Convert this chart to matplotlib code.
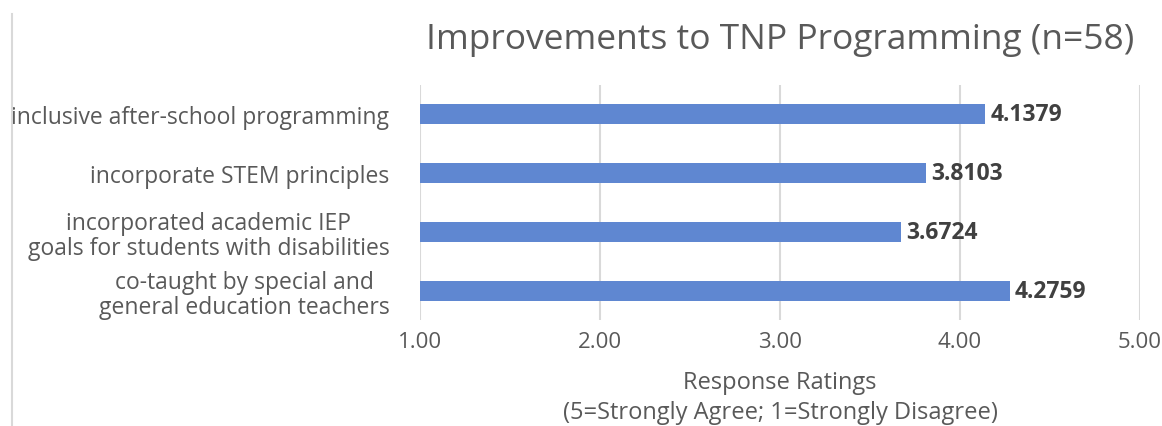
import matplotlib
matplotlib.use("Agg")
import matplotlib.pyplot as plt

categories = [
    "inclusive after-school programming",
    "incorporate STEM principles",
    "incorporated academic IEP\ngoals for students with disabilities",
    "co-taught by special and\ngeneral education teachers",
]
values = [4.1379, 3.8103, 3.6724, 4.2759]
xticks = [1.0, 2.0, 3.0, 4.0, 5.0]

FONT = ["Open Sans", "DejaVu Sans"]
plt.rcParams["font.family"] = FONT

fig = plt.figure(figsize=(11.62, 4.27), dpi=100)
ax = fig.add_axes([420/1162, 1-321/427, 720/1162, 235/427])

y = list(range(len(categories)))
base = 1.0
ax.barh(y, [v - base for v in values], left=base, height=0.34, color="#5F87D1", zorder=3)
for yi, v in zip(y, values):
    ax.text(v + 0.03, yi, f"{v:.4f}", va="center", ha="left", fontsize=16.5,
            fontweight="bold", color="#404040")

ax.set_xlim(1, 5)
ax.set_ylim(len(categories) - 0.5, -0.5)
ax.set_xticks(xticks)
ax.set_xticklabels([f"{t:.2f}" for t in xticks], fontsize=16, color="#595959")
ax.set_yticks(y)
ax.set_yticklabels(categories, fontsize=16.5, color="#595959", ha="right",
                   multialignment="center", linespacing=1.05)
ax.tick_params(axis="y", length=0, pad=22)
ax.tick_params(axis="x", length=0, pad=8)
ax.grid(axis="x", color="#D9D9D9", linewidth=1.5, zorder=0)
for s in ax.spines.values():
    s.set_visible(False)

ax.set_xlabel("Response Ratings\n(5=Strongly Agree; 1=Strongly Disagree)", fontsize=17,
              color="#595959", labelpad=13, linespacing=1.3)
fig.text(780/1162, 1-40/427, "Improvements to TNP Programming (n=58)", ha="center", va="center",
         fontsize=25.5, color="#595959")

fig.add_artist(plt.Line2D([12/1162, 12/1162], [0, 1-15/427], transform=fig.transFigure,
                          color="#D9D9D9", linewidth=1.5))

fig.savefig("out.png", dpi=100)
